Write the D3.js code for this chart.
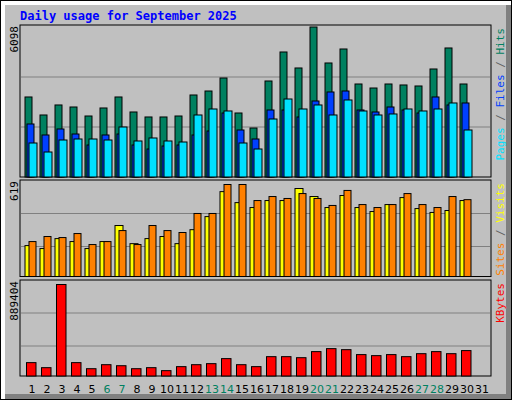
<!DOCTYPE html><html><head><meta charset="utf-8"><script src="https://cdn.jsdelivr.net/npm/d3@7"></script>
<style>body{margin:0}svg{display:block}</style></head><body><script>
const days=d3.range(1,32);
const weekends=[6,7,13,14,20,21,27,28];
const hits=[3253,2521,2928,2846,2480,2806,3253,2643,2440,2440,2480,3334,3496,4025,2602,1992,3903,5082,4432,6098,4635,5204,3781,3618,3781,3741,3700,4391,5245,3781];
const files=[2155,1708,1952,1748,1301,1708,1748,1301,1138,1260,1301,1708,1870,2602,1911,1545,2724,2724,2440,3090,3456,3496,2724,2643,2846,2724,2602,3253,2928,3009];
const pages=[1382,1016,1504,1545,1545,1504,2033,1464,1586,1464,1423,2521,2765,2684,1382,1138,2358,3171,2765,2928,2521,3131,2684,2521,2562,2765,2684,2765,3009,1911];
const visits=[208,188,255,235,188,235,343,221,255,269,221,315,403,571,497,464,511,511,592,538,464,545,464,437,484,531,457,431,444,511];
const sites=[235,269,262,289,215,235,309,215,343,309,296,424,424,619,619,511,538,525,558,525,478,579,484,464,484,558,484,464,538,517];
const kbytes=[130000,81000,889404,130000,71000,110000,100000,71000,81000,52000,91000,110000,120000,169000,110000,91000,188000,188000,178000,237000,266000,256000,208000,198000,208000,188000,217000,237000,217000,247000];
const maxLabels=["6098","619","889404"];

const svg=d3.select("body").append("svg").attr("width",512).attr("height",400);
svg.append("rect").attr("width",512).attr("height",400).attr("fill","#000");
svg.append("rect").attr("x",1).attr("y",1).attr("width",510).attr("height",398).attr("fill","#fff");
svg.append("rect").attr("x",5).attr("y",5).attr("width",506).attr("height",394).attr("fill","#808080");
svg.append("rect").attr("x",5).attr("y",5).attr("width",501).attr("height",389).attr("fill","#c0c0c0");
const font="'DejaVu Sans Mono', 'Liberation Mono', monospace";
svg.append("text").attr("x",20).attr("y",20).attr("fill","#0000ff").attr("font-family",font).attr("font-weight","bold").attr("font-size",12).text("Daily usage for September 2025");

const x=d3.scaleLinear().domain([1,31]).range([25,475]);
const panels=[{top:25,bot:177,h:150,max:6098,series:[[hits,0,7,"#008060"],[files,2,7,"#0040ff"],[pages,4,8,"#00e0ff"]],
  labels:[["Pages","#00e0ff"],[" / ","#606060"],["Files","#0040ff"],[" / ","#606060"],["Hits","#008060"]]},
 {top:180,bot:276.5,h:92,max:619,series:[[visits,0,8,"#ffff00"],[sites,4,7,"#ff8000"]],
  labels:[["Sites","#ff8000"],[" / ","#606060"],["Visits","#ffff00"]]},
 {top:280,bot:376,h:91.5,max:889404,series:[[kbytes,1.5,9.5,"#ff0000"]],labels:[["KBytes","#ff0000"]]}];
panels.forEach((p,i)=>{
  svg.append("rect").attr("x",20).attr("y",p.top).attr("width",471).attr("height",p.bot-p.top).attr("fill","#c0c0c0").attr("stroke","#000").attr("stroke-width",1);
  const y=d3.scaleLinear().domain([0,p.max]).range([p.bot,p.bot-p.h]);
  const gs=i==0?[2032,4065]:[p.max/3,p.max*2/3];
  const g=i==0?[127,77]:(i==1?[246.5,213.5]:[346,313]);
  g.forEach(gy=>svg.append("line").attr("x1",21).attr("x2",490).attr("y1",gy).attr("y2",gy).attr("stroke","#808080"));
  p.series.forEach(([data,off,w,col])=>{
    svg.append("g").selectAll("rect").data(data).join("rect")
      .attr("x",(d,j)=>x(j+1)+off).attr("width",w).attr("y",d=>y(d)).attr("height",d=>p.bot-y(d))
      .attr("fill",col).attr("stroke","#000").attr("stroke-width",1);
  });
  svg.append("text").attr("transform",`translate(18,${p.top+1}) rotate(-90)`).attr("text-anchor","end")
    .attr("font-family",font).attr("font-size",11).attr("fill","#000").text(maxLabels[i]);
  const t=svg.append("text").attr("transform",`translate(504,${p.top+3}) rotate(-90)`).attr("text-anchor","end")
    .attr("font-family",font).attr("font-size",11);
  p.labels.forEach(([s,c])=>t.append("tspan").attr("fill",c).attr("xml:space","preserve").text(s));
});
svg.append("g").selectAll("text").data(days).join("text").attr("x",d=>x(d)+7).attr("y",393).attr("text-anchor","middle")
  .attr("font-family","'DejaVu Sans', sans-serif").attr("font-size",11).attr("fill",d=>weekends.includes(d)?"#008060":"#000").text(d=>d);
</script></body></html>
